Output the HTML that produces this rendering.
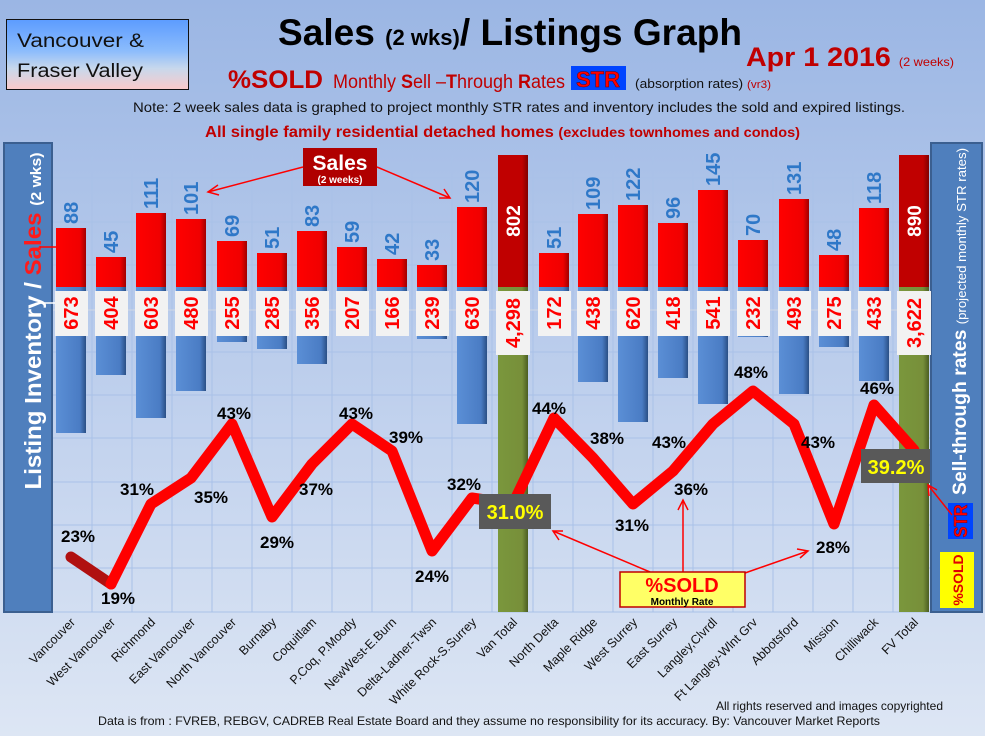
<!DOCTYPE html>
<html><head><meta charset="utf-8"><style>
html,body{margin:0;padding:0;width:985px;height:736px;overflow:hidden}
body{background:linear-gradient(#9bb6e4,#c3d3ee 55%,#dce5f4);font-family:"Liberation Sans",Arial,sans-serif}
svg text{font-family:"Liberation Sans",Arial,sans-serif}
</style></head><body>
<svg width="985" height="736" viewBox="0 0 985 736" xmlns="http://www.w3.org/2000/svg">
<defs>
<linearGradient id="bg" x1="0" y1="0" x2="0" y2="1"><stop offset="0" stop-color="#9bb6e4"/><stop offset="0.6" stop-color="#c3d3ee"/><stop offset="1" stop-color="#dde6f4"/></linearGradient>
<linearGradient id="vb" x1="0" y1="0" x2="0" y2="1"><stop offset="0" stop-color="#5c9cff"/><stop offset="0.45" stop-color="#8cbcfc"/><stop offset="0.7" stop-color="#c8d8ec"/><stop offset="1" stop-color="#fbcaca"/></linearGradient>
<linearGradient id="rb" x1="0" y1="0" x2="1" y2="0"><stop offset="0" stop-color="#ff0000"/><stop offset="0.8" stop-color="#f00000"/><stop offset="1" stop-color="#a00000"/></linearGradient>
<linearGradient id="bb" x1="0" y1="0" x2="1" y2="0"><stop offset="0" stop-color="#5b8fd6"/><stop offset="0.8" stop-color="#4a7cc4"/><stop offset="1" stop-color="#2a4f85"/></linearGradient>
<linearGradient id="gb" x1="0" y1="0" x2="1" y2="0"><stop offset="0" stop-color="#7a973c"/><stop offset="0.8" stop-color="#778f3a"/><stop offset="1" stop-color="#4b5e22"/></linearGradient>
<linearGradient id="dr" x1="0" y1="0" x2="1" y2="0"><stop offset="0" stop-color="#c00000"/><stop offset="0.8" stop-color="#c00000"/><stop offset="1" stop-color="#800000"/></linearGradient>
</defs>
<rect width="985" height="736" fill="url(#bg)"/>
<g stroke="#a9c1e8" stroke-width="1">
<line x1="52" y1="178" x2="930" y2="178"/><line x1="52" y1="222" x2="930" y2="222"/><line x1="52" y1="265" x2="930" y2="265"/><line x1="52" y1="352" x2="930" y2="352"/><line x1="52" y1="395" x2="930" y2="395"/><line x1="52" y1="438" x2="930" y2="438"/><line x1="52" y1="482" x2="930" y2="482"/><line x1="52" y1="525" x2="930" y2="525"/><line x1="52" y1="568" x2="930" y2="568"/><line x1="52" y1="612" x2="930" y2="612"/>
<line x1="92" y1="155" x2="92" y2="612"/><line x1="132" y1="155" x2="132" y2="612"/><line x1="172" y1="155" x2="172" y2="612"/><line x1="212" y1="155" x2="212" y2="612"/><line x1="252" y1="155" x2="252" y2="612"/><line x1="292" y1="155" x2="292" y2="612"/><line x1="332" y1="155" x2="332" y2="612"/><line x1="372" y1="155" x2="372" y2="612"/><line x1="412" y1="155" x2="412" y2="612"/><line x1="452" y1="155" x2="452" y2="612"/><line x1="492" y1="155" x2="492" y2="612"/><line x1="533" y1="155" x2="533" y2="612"/><line x1="573" y1="155" x2="573" y2="612"/><line x1="613" y1="155" x2="613" y2="612"/><line x1="653" y1="155" x2="653" y2="612"/><line x1="693" y1="155" x2="693" y2="612"/><line x1="733" y1="155" x2="733" y2="612"/><line x1="773" y1="155" x2="773" y2="612"/><line x1="813" y1="155" x2="813" y2="612"/><line x1="853" y1="155" x2="853" y2="612"/><line x1="893" y1="155" x2="893" y2="612"/>
</g>
<line x1="52" y1="310" x2="930" y2="310" stroke="#d0d8e6" stroke-width="1"/>

<rect x="6.5" y="19.5" width="182" height="70" fill="url(#vb)" stroke="#111" stroke-width="1"/>
<text x="17" y="47" font-size="19" fill="#111" textLength="127" lengthAdjust="spacingAndGlyphs">Vancouver &amp;</text>
<text x="17" y="77" font-size="19" fill="#111" textLength="126" lengthAdjust="spacingAndGlyphs">Fraser Valley</text>
<text x="278" y="45" font-size="37" font-weight="bold" fill="#000" textLength="464" lengthAdjust="spacingAndGlyphs">Sales <tspan font-size="22">(2 wks)</tspan>/ Listings Graph</text>
<text x="746" y="66" font-size="27" font-weight="bold" fill="#c00000" textLength="208" lengthAdjust="spacingAndGlyphs">Apr 1 2016 <tspan font-size="12" font-weight="normal">(2 weeks)</tspan></text>
<text x="228" y="88" font-size="25" font-weight="bold" fill="#c00000" textLength="95" lengthAdjust="spacingAndGlyphs">%SOLD</text>
<text x="333" y="88" font-size="19" fill="#c00000" textLength="232" lengthAdjust="spacingAndGlyphs">Monthly <tspan font-weight="bold">S</tspan>ell –<tspan font-weight="bold">T</tspan>hrough <tspan font-weight="bold">R</tspan>ates</text>
<rect x="571" y="66" width="55" height="24" fill="#0044ff"/>
<text x="598" y="87" font-size="22" font-weight="bold" fill="#ff0000" text-anchor="middle" stroke="#600" stroke-width="0.5">STR</text>
<text x="635" y="88" font-size="13" fill="#111" textLength="136" lengthAdjust="spacingAndGlyphs">(absorption rates) <tspan fill="#c00000" font-size="11">(vr3)</tspan></text>
<text x="133" y="112" font-size="14" fill="#111" textLength="772" lengthAdjust="spacingAndGlyphs">Note: 2 week sales data is graphed to project monthly STR rates and inventory includes the sold and expired listings.</text>
<text x="205" y="137" font-size="16" font-weight="bold" fill="#c00000" textLength="595" lengthAdjust="spacingAndGlyphs">All single family residential detached homes <tspan font-size="14">(excludes townhomes and condos)</tspan></text>

<rect x="4" y="143" width="48" height="469" fill="#4f7fbd" stroke="#3b5f90" stroke-width="2"/>
<text transform="translate(41,321) rotate(-90)" font-size="23" font-weight="bold" fill="#fff" text-anchor="middle" textLength="337" lengthAdjust="spacingAndGlyphs">Listing Inventory / <tspan fill="#ff1a1a">Sales</tspan> <tspan font-size="15">(2  wks)</tspan></text>
<line x1="40" y1="247" x2="65" y2="247" stroke="#f00" stroke-width="1.5"/>
<line x1="40" y1="303" x2="60" y2="303" stroke="#fff" stroke-width="1.5"/>
<rect x="931" y="143" width="51" height="469" fill="#4f7fbd" stroke="#3b5f90" stroke-width="2"/>
<text transform="translate(966,495) rotate(-90)" font-size="19" font-weight="bold" fill="#fff" textLength="347" lengthAdjust="spacingAndGlyphs">Sell-through rates  <tspan font-size="13" font-weight="normal">(projected monthly STR rates)</tspan></text>
<rect x="948" y="503" width="25" height="36" fill="#0044ff"/>
<text transform="translate(967,521) rotate(-90)" font-size="18" font-weight="bold" fill="#ff0000" text-anchor="middle" stroke="#600" stroke-width="0.4" textLength="33" lengthAdjust="spacingAndGlyphs">STR</text>
<rect x="940" y="552" width="34" height="56" fill="#ffff00"/>
<text transform="translate(963,580) rotate(-90)" font-size="14" font-weight="bold" fill="#e00000" text-anchor="middle">%SOLD</text>

<g fill="url(#bb)">
<rect x="56" y="287" width="30" height="146"/><rect x="96" y="287" width="30" height="88"/><rect x="136" y="287" width="30" height="131"/><rect x="176" y="287" width="30" height="104"/><rect x="217" y="287" width="30" height="55"/><rect x="257" y="287" width="30" height="62"/><rect x="297" y="287" width="30" height="77"/><rect x="337" y="287" width="30" height="45"/><rect x="377" y="287" width="30" height="36"/><rect x="417" y="287" width="30" height="52"/><rect x="457" y="287" width="30" height="137"/>
<rect x="539" y="287" width="30" height="37"/><rect x="578" y="287" width="30" height="95"/><rect x="618" y="287" width="30" height="135"/><rect x="658" y="287" width="30" height="91"/><rect x="698" y="287" width="30" height="117"/><rect x="738" y="287" width="30" height="50"/><rect x="779" y="287" width="30" height="107"/><rect x="819" y="287" width="30" height="60"/><rect x="859" y="287" width="30" height="94"/>
</g>
<rect x="498" y="287" width="30" height="325" fill="url(#gb)"/>
<rect x="899" y="287" width="30" height="325" fill="url(#gb)"/>
<g fill="url(#rb)">
<rect x="56" y="228" width="30" height="59"/><rect x="96" y="257" width="30" height="30"/><rect x="136" y="213" width="30" height="74"/><rect x="176" y="219" width="30" height="68"/><rect x="217" y="241" width="30" height="46"/><rect x="257" y="253" width="30" height="34"/><rect x="297" y="231" width="30" height="56"/><rect x="337" y="247" width="30" height="40"/><rect x="377" y="259" width="30" height="28"/><rect x="417" y="265" width="30" height="22"/><rect x="457" y="207" width="30" height="80"/>
<rect x="539" y="253" width="30" height="34"/><rect x="578" y="214" width="30" height="73"/><rect x="618" y="205" width="30" height="82"/><rect x="658" y="223" width="30" height="64"/><rect x="698" y="190" width="30" height="97"/><rect x="738" y="240" width="30" height="47"/><rect x="779" y="199" width="30" height="88"/><rect x="819" y="255" width="30" height="32"/><rect x="859" y="208" width="30" height="79"/>
</g>
<rect x="498" y="155" width="30" height="132" fill="url(#dr)"/>
<rect x="899" y="155" width="30" height="132" fill="url(#dr)"/>
<text transform="translate(520,221) rotate(-90)" font-size="19" font-weight="bold" fill="#fff" text-anchor="middle">802</text>
<text transform="translate(921,221) rotate(-90)" font-size="19" font-weight="bold" fill="#fff" text-anchor="middle">890</text>

<g font-size="20" font-weight="bold" fill="#2f78c8">
<text transform="translate(78,224) rotate(-90)">88</text>
<text transform="translate(118,253) rotate(-90)">45</text>
<text transform="translate(158,209) rotate(-90)">111</text>
<text transform="translate(198,215) rotate(-90)">101</text>
<text transform="translate(239,237) rotate(-90)">69</text>
<text transform="translate(279,249) rotate(-90)">51</text>
<text transform="translate(319,227) rotate(-90)">83</text>
<text transform="translate(359,243) rotate(-90)">59</text>
<text transform="translate(399,255) rotate(-90)">42</text>
<text transform="translate(439,261) rotate(-90)">33</text>
<text transform="translate(479,203) rotate(-90)">120</text>
<text transform="translate(561,249) rotate(-90)">51</text>
<text transform="translate(600,210) rotate(-90)">109</text>
<text transform="translate(640,201) rotate(-90)">122</text>
<text transform="translate(680,219) rotate(-90)">96</text>
<text transform="translate(720,186) rotate(-90)">145</text>
<text transform="translate(760,236) rotate(-90)">70</text>
<text transform="translate(801,195) rotate(-90)">131</text>
<text transform="translate(841,251) rotate(-90)">48</text>
<text transform="translate(881,204) rotate(-90)">118</text>
</g>

<g fill="#f2f2f2">
<rect x="55" y="291" width="33" height="45"/><rect x="95" y="291" width="33" height="45"/><rect x="135" y="291" width="33" height="45"/><rect x="175" y="291" width="33" height="45"/><rect x="216" y="291" width="33" height="45"/><rect x="256" y="291" width="33" height="45"/><rect x="296" y="291" width="33" height="45"/><rect x="336" y="291" width="33" height="45"/><rect x="376" y="291" width="33" height="45"/><rect x="416" y="291" width="33" height="45"/><rect x="456" y="291" width="33" height="45"/><rect x="496" y="291" width="34" height="64"/><rect x="538" y="291" width="33" height="45"/><rect x="577" y="291" width="33" height="45"/><rect x="617" y="291" width="33" height="45"/><rect x="657" y="291" width="33" height="45"/><rect x="697" y="291" width="33" height="45"/><rect x="737" y="291" width="33" height="45"/><rect x="778" y="291" width="33" height="45"/><rect x="818" y="291" width="33" height="45"/><rect x="858" y="291" width="33" height="45"/><rect x="897" y="291" width="34" height="64"/>
</g>
<g font-size="20" font-weight="bold" fill="#ff0000" text-anchor="middle">
<text transform="translate(78,313) rotate(-90)">673</text>
<text transform="translate(118,313) rotate(-90)">404</text>
<text transform="translate(158,313) rotate(-90)">603</text>
<text transform="translate(198,313) rotate(-90)">480</text>
<text transform="translate(239,313) rotate(-90)">255</text>
<text transform="translate(279,313) rotate(-90)">285</text>
<text transform="translate(319,313) rotate(-90)">356</text>
<text transform="translate(359,313) rotate(-90)">207</text>
<text transform="translate(399,313) rotate(-90)">166</text>
<text transform="translate(439,313) rotate(-90)">239</text>
<text transform="translate(479,313) rotate(-90)">630</text>
<text transform="translate(520,323) rotate(-90)">4,298</text>
<text transform="translate(561,313) rotate(-90)">172</text>
<text transform="translate(600,313) rotate(-90)">438</text>
<text transform="translate(640,313) rotate(-90)">620</text>
<text transform="translate(680,313) rotate(-90)">418</text>
<text transform="translate(720,313) rotate(-90)">541</text>
<text transform="translate(760,313) rotate(-90)">232</text>
<text transform="translate(801,313) rotate(-90)">493</text>
<text transform="translate(841,313) rotate(-90)">275</text>
<text transform="translate(881,313) rotate(-90)">433</text>
<text transform="translate(921,323) rotate(-90)">3,622</text>
</g>

<polyline points="71,557 111,584" fill="none" stroke="#b01010" stroke-width="11" stroke-linecap="round"/>
<polyline points="111,584 151,504 191,478 232,424 272,517 312,464 352,424 392,451 432,551 472,498 513,504 554,418 593,458 633,504 673,471 713,424 753,391 794,424 834,524 874,405 914,450" fill="none" stroke="#ff0000" stroke-width="11" stroke-linejoin="round" stroke-linecap="round"/>

<g font-size="17" font-weight="bold" fill="#000" text-anchor="middle">
<text x="78" y="542">23%</text><text x="118" y="604">19%</text><text x="137" y="495">31%</text><text x="211" y="503">35%</text><text x="234" y="419">43%</text><text x="277" y="548">29%</text><text x="316" y="495">37%</text><text x="356" y="419">43%</text><text x="406" y="443">39%</text><text x="432" y="582">24%</text><text x="464" y="490">32%</text><text x="549" y="414">44%</text><text x="607" y="444">38%</text><text x="632" y="531">31%</text><text x="691" y="495">36%</text><text x="669" y="448">43%</text><text x="751" y="378">48%</text><text x="818" y="448">43%</text><text x="833" y="553">28%</text><text x="877" y="394">46%</text>
</g>

<rect x="479" y="494" width="72" height="35" fill="#595959"/>
<text x="515" y="519" font-size="20" font-weight="bold" fill="#ffff00" text-anchor="middle">31.0%</text>
<rect x="861" y="449" width="69" height="34" fill="#595959"/>
<text x="896" y="474" font-size="20" font-weight="bold" fill="#ffff00" text-anchor="middle">39.2%</text>

<rect x="303" y="148" width="74" height="38" fill="#b00000"/>
<text x="340" y="170" font-size="21" font-weight="bold" fill="#fff" text-anchor="middle">Sales</text>
<text x="340" y="183" font-size="10" font-weight="bold" fill="#fff" text-anchor="middle">(2 weeks)</text>
<g stroke="#ff0000" stroke-width="1.5" fill="none">
<line x1="303" y1="167" x2="208" y2="192"/><polyline points="218,185 208,192 219,195"/>
<line x1="377" y1="167" x2="450" y2="198"/><polyline points="439,198 450,198 444,189"/>
<line x1="650" y1="572" x2="553" y2="531"/><polyline points="563,531 553,531 559,540"/>
<line x1="683" y1="572" x2="683" y2="500"/><polyline points="678,510 683,500 688,510"/>
<line x1="745" y1="573" x2="808" y2="551"/><polyline points="797,549 808,551 800,558"/>
<line x1="952" y1="515" x2="928" y2="485"/><polyline points="929,496 928,485 937,490"/>
</g>
<rect x="620" y="572" width="125" height="35" fill="#ffff66" stroke="#c00000" stroke-width="1.5"/>
<text x="682" y="592" font-size="20" font-weight="bold" fill="#ff0000" text-anchor="middle">%SOLD</text>
<text x="682" y="605" font-size="10" font-weight="bold" fill="#000" text-anchor="middle">Monthly Rate</text>

<g font-size="12.5" fill="#111" text-anchor="end">
<text transform="translate(76,623) rotate(-45)">Vancouver</text>
<text transform="translate(116,623) rotate(-45)">West Vancouver</text>
<text transform="translate(156,623) rotate(-45)">Richmond</text>
<text transform="translate(196,623) rotate(-45)">East Vancouver</text>
<text transform="translate(237,623) rotate(-45)">North Vancouver</text>
<text transform="translate(277,623) rotate(-45)">Burnaby</text>
<text transform="translate(317,623) rotate(-45)">Coquitlam</text>
<text transform="translate(357,623) rotate(-45)">P.Coq, P.Moody</text>
<text transform="translate(397,623) rotate(-45)">NewWest-E.Burn</text>
<text transform="translate(437,623) rotate(-45)">Delta-Ladner-Twsn</text>
<text transform="translate(477,623) rotate(-45)">White Rock-S.Surrey</text>
<text transform="translate(518,623) rotate(-45)">Van Total</text>
<text transform="translate(559,623) rotate(-45)">North Delta</text>
<text transform="translate(598,623) rotate(-45)">Maple Ridge</text>
<text transform="translate(638,623) rotate(-45)">West Surrey</text>
<text transform="translate(678,623) rotate(-45)">East Surrey</text>
<text transform="translate(718,623) rotate(-45)">Langley,Clvrdl</text>
<text transform="translate(758,623) rotate(-45)">Ft Langley-Wlnt Grv</text>
<text transform="translate(799,623) rotate(-45)">Abbotsford</text>
<text transform="translate(839,623) rotate(-45)">Mission</text>
<text transform="translate(879,623) rotate(-45)">Chilliwack</text>
<text transform="translate(919,623) rotate(-45)">FV Total</text>
</g>

<text x="716" y="710" font-size="12" fill="#111" textLength="227" lengthAdjust="spacingAndGlyphs">All rights reserved and  images copyrighted</text>
<text x="98" y="725" font-size="12" fill="#111" textLength="782" lengthAdjust="spacingAndGlyphs">Data is from : FVREB, REBGV, CADREB Real Estate Board and they assume no responsibility for its accuracy. By: Vancouver Market Reports</text>
</svg>
</body></html>
